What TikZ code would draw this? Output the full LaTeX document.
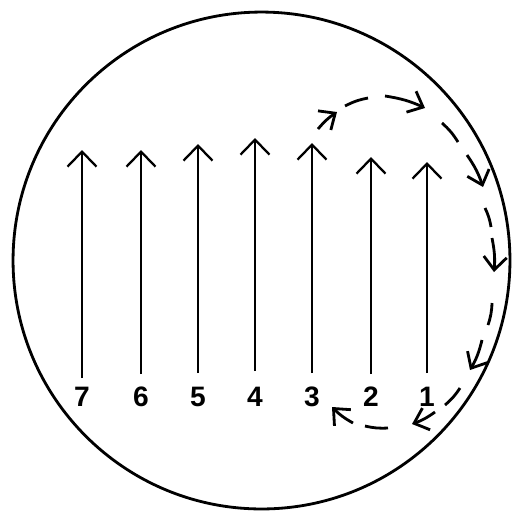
\documentclass[tikz,border=0pt]{standalone}
\usepackage{fontspec}
\setmainfont{Liberation Sans}
\usetikzlibrary{arrows.meta}

\begin{document}
\begin{tikzpicture}[
    x=0.02cm, y=-0.02cm,
    rim/.style={line width=1.6pt},
    vec/.style={line width=1.3pt, -{Straight Barb[length=0.3cm, width=0.58cm]}},
    num/.style={font=\fontsize{16}{16}\selectfont\bfseries, inner sep=0pt},
    flow/.style={line width=1.6pt},
    flowhead/.style={flow, -{Straight Barb[length=0.26cm, width=0.46cm]}},
  ]
    \useasboundingbox (0,0) rectangle (513,512);

    % field of view
    \draw[rim] (261.5,260.5) circle[radius=4.97cm];

    % numbered arrows
    \foreach \n/\x/\top/\bot in {7/82/150/378, 6/141/150/374, 5/198/144/373, 4/255/138/371, 3/312/143/373, 2/371/157/374, 1/427/162/373} {
      \node[num] (l\n) at (\x,397) {\n};
      \coordinate (b\n) at (\x,\bot);
      \coordinate (t\n) at (\x,\top);
      \draw[vec] (b\n) -- (t\n);
    }

    % dashed loop: dashes with heads
    \foreach \xa/\ya/\xb/\yb in {318/129/337/112, 385/96/425/108, 467/155/483/187, 492/238/494/272, 482/340/470/370, 435/412/412/424, 353/423/332/407}
      \draw[flowhead] (\xa,\ya) to[bend left=8] (\xb,\yb);
    % plain dashes
    \foreach \xa/\ya/\xb/\yb in {345/106/368/98, 442/123/458/142, 485/208/491/227, 492/303/488/325, 460/388/445/405, 388/428/365/426}
      \draw[flow] (\xa,\ya) to[bend left=8] (\xb,\yb);
  \end{tikzpicture}
\end{document}
